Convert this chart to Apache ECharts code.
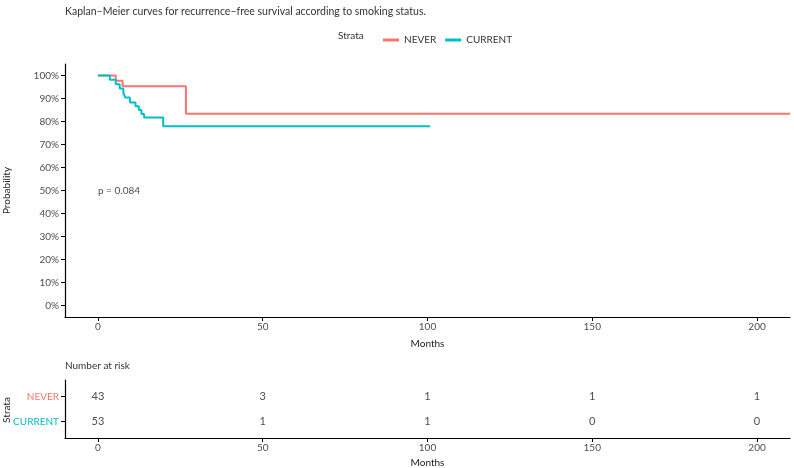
<!DOCTYPE html>
<html>
<head>
<meta charset="utf-8">
<script src="https://cdn.jsdelivr.net/npm/echarts@6/dist/echarts.min.js"></script>
<style>
  html, body { margin: 0; padding: 0; background: #fff; }
  #chart { width: 794px; height: 468px; }
</style>
</head>
<body>
<div id="chart"></div>
<script>
// survival steps: [month, probability]
const neverSteps = [[0, 1.0], [5.4, 0.977], [7.5, 0.953], [26.7, 0.834], [210, 0.834]];
const currentSteps = [
  [0, 1.0], [3.6, 0.981], [5.4, 0.962], [6.6, 0.943], [7.7, 0.925], [8.3, 0.904],
  [9.7, 0.883], [11.4, 0.866], [12.4, 0.85], [13.2, 0.833], [14.0, 0.817],
  [19.8, 0.779], [100.8, 0.779]
];
// risk table rows, bottom to top
const strata = ['CURRENT', 'NEVER'];
const riskTimes = [0, 50, 100, 150, 200];
const neverRisk = [43, 3, 1, 1, 1];
const currentRisk = [53, 1, 1, 0, 0];
const xTicks = [0, 50, 100, 150, 200];
const yTicks = [0, 0.1, 0.2, 0.3, 0.4, 0.5, 0.6, 0.7, 0.8, 0.9, 1.0];
const pText = 'p = 0.084';

const RED = '#F8766D';
const TEAL = '#00BFC4';
const FONT = 'Lato, "DejaVu Sans", sans-serif';
const GREY = '#4d4d4d';

const chart = echarts.init(document.getElementById('chart'), null, { renderer: 'canvas' });

const axisLine = { show: true, onZero: false, lineStyle: { color: '#000', width: 1.2 } };
const axisTick = { show: true, length: 4, lineStyle: { color: '#000', width: 1 } };
const rowIdx = strata.map((s, i) => i);

function xAxisFor(grid, gap) {
  return {
    type: 'value', gridIndex: grid, min: -10, max: 210,
    axisLine: axisLine,
    axisTick: Object.assign({ customValues: xTicks }, axisTick),
    axisLabel: { customValues: xTicks, color: GREY, fontSize: 10, fontFamily: FONT, margin: 5 },
    splitLine: { show: false },
    name: 'Months', nameLocation: 'middle', nameGap: gap,
    nameTextStyle: { color: '#222', fontSize: 10, fontFamily: FONT }
  };
}

function riskSeries(name, vals) {
  const row = strata.indexOf(name);
  return {
    type: 'scatter', xAxisIndex: 1, yAxisIndex: 1, symbolSize: 0, silent: true,
    data: riskTimes.map((t, i) => [t, row, vals[i]]),
    label: {
      show: true, position: 'inside', color: '#222', fontSize: 11, fontFamily: FONT,
      formatter: p => String(p.value[2])
    }
  };
}

const option = {
  animation: false,
  backgroundColor: '#fff',
  title: {
    text: 'Kaplan\u2013Meier curves for recurrence\u2013free survival according to smoking status.',
    left: 60, top: 1,
    textStyle: { fontSize: 10.5, fontWeight: 'normal', color: '#333', fontFamily: FONT }
  },
  legend: {
    data: ['NEVER', 'CURRENT'], left: 378, top: 30,
    icon: 'rect', itemWidth: 16, itemHeight: 3, itemGap: 9,
    textStyle: { color: '#333', fontSize: 10, fontFamily: FONT }
  },
  graphic: [
    { type: 'text', left: 338, top: 31, style: { text: 'Strata', fill: '#333', font: '10px ' + FONT } },
    { type: 'text', left: 65, top: 361, style: { text: 'Number at risk', fill: '#333', font: '10px ' + FONT } },
    {
      type: 'text', x: 7, y: 410, rotation: Math.PI / 2,
      style: { text: 'Strata', fill: '#222', font: '10px ' + FONT, align: 'center', verticalAlign: 'middle' }
    }
  ],
  grid: [
    { left: 65, top: 64, width: 725, height: 253, containLabel: false, outerBoundsMode: 'none' },
    { left: 65, top: 380, width: 725, height: 58, containLabel: false, outerBoundsMode: 'none' }
  ],
  xAxis: [xAxisFor(0, 22), xAxisFor(1, 20)],
  yAxis: [
    {
      type: 'value', gridIndex: 0, min: -0.05, max: 1.05,
      axisLine: axisLine,
      axisTick: Object.assign({ customValues: yTicks }, axisTick),
      axisLabel: {
        customValues: yTicks, color: GREY, fontSize: 10, fontFamily: FONT, margin: 6,
        formatter: v => Math.round(v * 100) + '%'
      },
      splitLine: { show: false },
      name: 'Probability', nameLocation: 'middle', nameGap: 53,
      nameTextStyle: { color: '#222', fontSize: 10, fontFamily: FONT }
    },
    {
      type: 'value', gridIndex: 1, min: -0.65, max: 1.65,
      axisLine: axisLine,
      axisTick: Object.assign({ customValues: rowIdx }, axisTick),
      axisLabel: {
        customValues: rowIdx, fontSize: 10, fontFamily: FONT, margin: 6,
        formatter: v => strata[Math.round(v)],
        color: v => (strata[Math.round(v)] === 'NEVER' ? RED : TEAL)
      },
      splitLine: { show: false }
    }
  ],
  series: [
    {
      name: 'NEVER', type: 'line', step: 'end', xAxisIndex: 0, yAxisIndex: 0,
      data: neverSteps, showSymbol: false, symbol: 'none', color: RED,
      lineStyle: { color: RED, width: 2 }, z: 2
    },
    {
      name: 'CURRENT', type: 'line', step: 'end', xAxisIndex: 0, yAxisIndex: 0,
      data: currentSteps, showSymbol: false, symbol: 'none', color: TEAL,
      lineStyle: { color: TEAL, width: 2 }, z: 3
    },
    {
      type: 'scatter', xAxisIndex: 0, yAxisIndex: 0, symbolSize: 0, silent: true,
      data: [[0, 0.5]],
      label: {
        show: true, position: 'right', distance: 0, color: '#222', fontSize: 10,
        fontFamily: FONT, formatter: pText
      }
    },
    riskSeries('NEVER', neverRisk),
    riskSeries('CURRENT', currentRisk)
  ]
};

chart.setOption(option);
</script>
</body>
</html>
